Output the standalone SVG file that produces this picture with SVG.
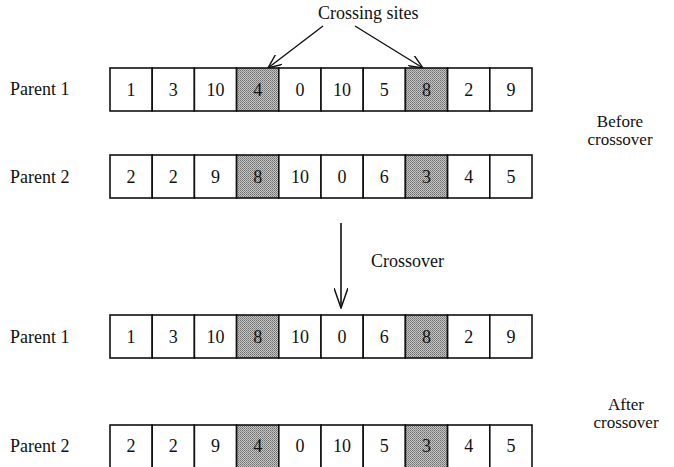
<svg xmlns="http://www.w3.org/2000/svg" width="674" height="467" viewBox="0 0 674 467">
  <style>
    text { font-family: "Liberation Serif", "Times New Roman", "DejaVu Serif", serif; fill: #111; }
    .lbl { font-size: 18px; }
    .num { font-size: 18px; text-anchor: middle; }
    .side { font-size: 17px; text-anchor: middle; }
    .cell { fill: #fff; stroke: #111; stroke-width: 1.6; }
    .cut { fill: url(#dots); stroke: #111; stroke-width: 1.6; }
  </style>
  <defs>
    <pattern id="dots" width="2" height="2" patternUnits="userSpaceOnUse">
      <rect width="2" height="2" fill="#c4c4c4"/>
      <rect width="1" height="1" fill="#6e6e6e"/>
      <rect x="1" y="1" width="1" height="1" fill="#8a8a8a"/>
    </pattern>
    <marker id="vee" viewBox="0 0 15 12" refX="14" refY="6" markerWidth="15" markerHeight="12" markerUnits="userSpaceOnUse" orient="auto">
      <path d="M0,0 L14,6 L0,12" fill="none" stroke="#111" stroke-width="1.4"/>
    </marker>
    <marker id="vee2" viewBox="0 0 21 14" refX="20" refY="7" markerWidth="21" markerHeight="14" markerUnits="userSpaceOnUse" orient="auto">
      <path d="M0,0 L20,7 L0,14" fill="none" stroke="#111" stroke-width="1.5"/>
    </marker>
  </defs>

  <!-- row captions -->
  <text class="lbl" x="318" y="19">Crossing sites</text>
  <text class="lbl" x="10" y="95">Parent 1</text>
  <text class="lbl" x="10" y="183">Parent 2</text>
  <text class="side" x="620" y="127">Before</text>
  <text class="side" x="620" y="145">crossover</text>
  <text class="lbl" x="371" y="267">Crossover</text>
  <text class="lbl" x="10" y="343">Parent 1</text>
  <text class="lbl" x="10" y="452">Parent 2</text>
  <text class="side" x="626" y="410">After</text>
  <text class="side" x="626" y="428">crossover</text>

  <!-- connectors -->
  <g id="connectors" stroke="#111" fill="none">
    <line x1="323" y1="26" x2="268" y2="68" stroke-width="1.4" marker-end="url(#vee)"/>
    <line x1="355" y1="26" x2="423" y2="68" stroke-width="1.4" marker-end="url(#vee)"/>
    <line x1="341" y1="223" x2="341" y2="308" stroke-width="1.6" marker-end="url(#vee2)"/>
  </g>

  <!-- before crossover, parent 1 -->
  <g id="before-p1">
    <rect class="cell" x="110" y="68" width="42.2" height="43"/>
    <rect class="cell" x="152.2" y="68" width="42.2" height="43"/>
    <rect class="cell" x="194.4" y="68" width="42.2" height="43"/>
    <rect class="cut" x="236.6" y="68" width="42.2" height="43"/>
    <rect class="cell" x="278.8" y="68" width="42.2" height="43"/>
    <rect class="cell" x="321" y="68" width="42.2" height="43"/>
    <rect class="cell" x="363.2" y="68" width="42.2" height="43"/>
    <rect class="cut" x="405.4" y="68" width="42.2" height="43"/>
    <rect class="cell" x="447.6" y="68" width="42.2" height="43"/>
    <rect class="cell" x="489.8" y="68" width="42.2" height="43"/>
    <text class="num" x="131.1" y="96">1</text>
    <text class="num" x="173.3" y="96">3</text>
    <text class="num" x="215.5" y="96">10</text>
    <text class="num" x="257.7" y="96">4</text>
    <text class="num" x="299.9" y="96">0</text>
    <text class="num" x="342.1" y="96">10</text>
    <text class="num" x="384.3" y="96">5</text>
    <text class="num" x="426.5" y="96">8</text>
    <text class="num" x="468.7" y="96">2</text>
    <text class="num" x="510.9" y="96">9</text>
  </g>

  <!-- before crossover, parent 2 -->
  <g id="before-p2">
    <rect class="cell" x="110" y="155" width="42.2" height="43"/>
    <rect class="cell" x="152.2" y="155" width="42.2" height="43"/>
    <rect class="cell" x="194.4" y="155" width="42.2" height="43"/>
    <rect class="cut" x="236.6" y="155" width="42.2" height="43"/>
    <rect class="cell" x="278.8" y="155" width="42.2" height="43"/>
    <rect class="cell" x="321" y="155" width="42.2" height="43"/>
    <rect class="cell" x="363.2" y="155" width="42.2" height="43"/>
    <rect class="cut" x="405.4" y="155" width="42.2" height="43"/>
    <rect class="cell" x="447.6" y="155" width="42.2" height="43"/>
    <rect class="cell" x="489.8" y="155" width="42.2" height="43"/>
    <text class="num" x="131.1" y="183">2</text>
    <text class="num" x="173.3" y="183">2</text>
    <text class="num" x="215.5" y="183">9</text>
    <text class="num" x="257.7" y="183">8</text>
    <text class="num" x="299.9" y="183">10</text>
    <text class="num" x="342.1" y="183">0</text>
    <text class="num" x="384.3" y="183">6</text>
    <text class="num" x="426.5" y="183">3</text>
    <text class="num" x="468.7" y="183">4</text>
    <text class="num" x="510.9" y="183">5</text>
  </g>

  <!-- after crossover, parent 1 -->
  <g id="after-p1">
    <rect class="cell" x="110" y="315" width="42.2" height="43"/>
    <rect class="cell" x="152.2" y="315" width="42.2" height="43"/>
    <rect class="cell" x="194.4" y="315" width="42.2" height="43"/>
    <rect class="cut" x="236.6" y="315" width="42.2" height="43"/>
    <rect class="cell" x="278.8" y="315" width="42.2" height="43"/>
    <rect class="cell" x="321" y="315" width="42.2" height="43"/>
    <rect class="cell" x="363.2" y="315" width="42.2" height="43"/>
    <rect class="cut" x="405.4" y="315" width="42.2" height="43"/>
    <rect class="cell" x="447.6" y="315" width="42.2" height="43"/>
    <rect class="cell" x="489.8" y="315" width="42.2" height="43"/>
    <text class="num" x="131.1" y="343">1</text>
    <text class="num" x="173.3" y="343">3</text>
    <text class="num" x="215.5" y="343">10</text>
    <text class="num" x="257.7" y="343">8</text>
    <text class="num" x="299.9" y="343">10</text>
    <text class="num" x="342.1" y="343">0</text>
    <text class="num" x="384.3" y="343">6</text>
    <text class="num" x="426.5" y="343">8</text>
    <text class="num" x="468.7" y="343">2</text>
    <text class="num" x="510.9" y="343">9</text>
  </g>

  <!-- after crossover, parent 2 -->
  <g id="after-p2">
    <rect class="cell" x="110" y="425" width="42.2" height="43"/>
    <rect class="cell" x="152.2" y="425" width="42.2" height="43"/>
    <rect class="cell" x="194.4" y="425" width="42.2" height="43"/>
    <rect class="cut" x="236.6" y="425" width="42.2" height="43"/>
    <rect class="cell" x="278.8" y="425" width="42.2" height="43"/>
    <rect class="cell" x="321" y="425" width="42.2" height="43"/>
    <rect class="cell" x="363.2" y="425" width="42.2" height="43"/>
    <rect class="cut" x="405.4" y="425" width="42.2" height="43"/>
    <rect class="cell" x="447.6" y="425" width="42.2" height="43"/>
    <rect class="cell" x="489.8" y="425" width="42.2" height="43"/>
    <text class="num" x="131.1" y="452">2</text>
    <text class="num" x="173.3" y="452">2</text>
    <text class="num" x="215.5" y="452">9</text>
    <text class="num" x="257.7" y="452">4</text>
    <text class="num" x="299.9" y="452">0</text>
    <text class="num" x="342.1" y="452">10</text>
    <text class="num" x="384.3" y="452">5</text>
    <text class="num" x="426.5" y="452">3</text>
    <text class="num" x="468.7" y="452">4</text>
    <text class="num" x="510.9" y="452">5</text>
  </g>
</svg>
